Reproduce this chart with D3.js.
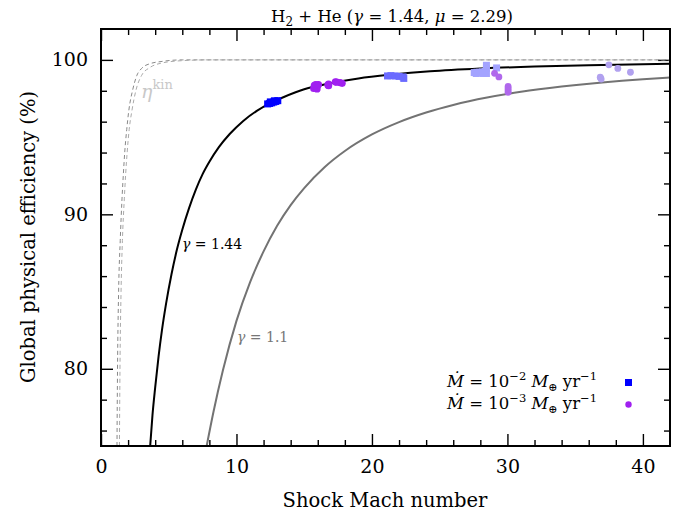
<!DOCTYPE html>
<html><head><meta charset="utf-8">
<script src="https://cdn.jsdelivr.net/npm/d3@7"></script>
<style>body{margin:0;background:#fff} text{font-family:"DejaVu Serif",serif}</style>
</head><body><svg id="c" width="694" height="515"></svg>
<script>
// ---- data ----
const xMajorTicks=[0,10,20,30,40];
const yMajorTicks=[80,90,100];
const xDomain=[0,42];
const yDomain=[75,102];
// theoretical curves (Mach, efficiency %)
const curveGamma144=[[3.63,75],[3.8,77.0],[4.0,78.8],[4.25,80.8],[4.5,82.5],[4.8,84.2],[5.2,86.1],[5.6,87.7],[6.0,89.0],[6.5,90.4],[7.0,91.6],[7.5,92.6],[8.0,93.4],[8.7,94.35],[9.5,95.2],[10.5,96.05],[11.5,96.7],[12.5,97.2],[13.5,97.6],[15,98.1],[17,98.5],[19,98.8],[21.5,99.05],[24.3,99.26],[28,99.44],[32,99.57],[36,99.66],[42,99.75]];
const curveGamma11=[[7.8,75],[8.3,77.2],[9.0,79.9],[10.0,83.1],[11.0,85.6],[12.0,87.6],[13.0,89.26],[14.0,90.6],[15.0,91.7],[16.5,93.05],[18.0,94.1],[20.0,95.17],[22.0,95.97],[24.0,96.59],[26.0,97.08],[28.5,97.56],[31.0,97.93],[34.0,98.27],[37.0,98.54],[40.0,98.75],[42.0,98.86]];
const curveKinA=[[1.18,75],[1.22,80],[1.3,85],[1.42,88.3],[1.55,91],[1.65,92.6],[1.75,94],[1.9,95.5],[2.05,96.7],[2.35,98.1],[2.65,99],[3.0,99.45],[3.6,99.75],[4.5,99.9],[6,100],[42,100]];
const curveKinB=[[1.36,75],[1.4,80],[1.48,85],[1.58,88.3],[1.72,91],[1.82,92.6],[1.93,94],[2.08,95.5],[2.28,96.7],[2.6,98.1],[3.0,99],[3.6,99.5],[4.5,99.8],[6,99.95],[8,100],[42,100]];
// simulations, Mdot = 1e-2 (squares)
const sq1=[[12.3,97.15],[12.45,97.18],[12.6,97.22],[12.75,97.27],[12.9,97.31],[13.05,97.36],[12.5,97.28],[12.8,97.35]];
const sq2=[[21.15,98.96],[21.4,98.98],[21.7,98.96],[22.0,98.93],[22.35,98.8],[22.3,98.9]];
const sq3=[[27.55,99.18],[27.75,99.2],[27.95,99.2],[28.15,99.22],[28.35,99.25],[28.45,99.45],[28.45,99.65],[28.45,99.12],[27.7,99.12],[28.2,99.12],[29.2,99.48]];
// simulations, Mdot = 1e-3 (circles)
const ci1=[[15.7,98.15],[15.8,98.22],[15.9,98.28],[16.0,98.36],[15.75,98.35],[15.95,98.12],[16.05,98.4],[15.85,98.4],[16.8,98.33],[16.8,98.43],[16.75,98.38],[17.3,98.58],[17.4,98.56],[17.65,98.53],[17.8,98.48]];
const ci2=[[29.05,99.13],[29.37,98.9],[30.05,98.28],[30.05,98.15],[30.05,98.02],[30.05,97.9]];
const ci3=[[37.49,99.68],[38.15,99.45],[39.08,99.2],[36.85,98.88],[36.92,98.76],[36.88,98.82]];

// ---- layout ----
const svg=d3.select("#c");
const L=101,R=670,T=29,B=446;
const x=d3.scaleLinear().domain(xDomain).range([L,R]);
const y=d3.scaleLinear().domain(yDomain).range([B,T]);
svg.append("defs").append("clipPath").attr("id","clip").append("rect")
  .attr("x",L).attr("y",T).attr("width",R-L).attr("height",B-T);

const xMinor=d3.range(2,42,2).filter(v=>v%10!==0);
const yMinor=d3.range(76,102,2).filter(v=>v%10!==0);

function styleAxis(g){g.select(".domain").remove();g.selectAll("line").attr("stroke","#000").attr("stroke-width",1.4);
  g.selectAll("text").attr("font-size",19).attr("fill","#000").attr("font-family","DejaVu Serif");}
// bottom
svg.append("g").attr("transform",`translate(0,${B})`).call(d3.axisBottom(x).tickValues(xMajorTicks).tickSize(-12).tickPadding(14).tickFormat(d3.format("d"))).call(styleAxis);
svg.append("g").attr("transform",`translate(0,${B})`).call(d3.axisBottom(x).tickValues(xMinor).tickSize(-6).tickFormat("")).call(styleAxis);
// top
svg.append("g").attr("transform",`translate(0,${T})`).call(d3.axisTop(x).tickValues(xMajorTicks).tickSize(-12).tickFormat("")).call(styleAxis);
svg.append("g").attr("transform",`translate(0,${T})`).call(d3.axisTop(x).tickValues(xMinor).tickSize(-6).tickFormat("")).call(styleAxis);
// left
svg.append("g").attr("transform",`translate(${L},0)`).call(d3.axisLeft(y).tickValues(yMajorTicks).tickSize(-12).tickPadding(13).tickFormat(d3.format("d"))).call(styleAxis);
svg.append("g").attr("transform",`translate(${L},0)`).call(d3.axisLeft(y).tickValues(yMinor).tickSize(-6).tickFormat("")).call(styleAxis);
// right
svg.append("g").attr("transform",`translate(${R},0)`).call(d3.axisRight(y).tickValues(yMajorTicks).tickSize(-12).tickFormat("")).call(styleAxis);
svg.append("g").attr("transform",`translate(${R},0)`).call(d3.axisRight(y).tickValues(yMinor).tickSize(-6).tickFormat("")).call(styleAxis);

const plot=svg.append("g").attr("clip-path","url(#clip)");
const line=d3.line().x(d=>x(d[0])).y(d=>y(d[1])).curve(d3.curveMonotoneX);
plot.append("path").datum(curveKinA).attr("d",line).attr("fill","none").attr("stroke","#888").attr("stroke-width",1).attr("stroke-dasharray","4,3");
plot.append("path").datum(curveKinB).attr("d",line).attr("fill","none").attr("stroke","#aaa").attr("stroke-width",1).attr("stroke-dasharray","4,3");
plot.append("path").datum(curveGamma11).attr("d",line).attr("fill","none").attr("stroke","#737373").attr("stroke-width",2);
plot.append("path").datum(curveGamma144).attr("d",line).attr("fill","none").attr("stroke","#000").attr("stroke-width",2);

function squares(data,color){plot.append("g").selectAll("rect").data(data).join("rect")
  .attr("x",d=>x(d[0])-3.5).attr("y",d=>y(d[1])-3.5).attr("width",7).attr("height",7).attr("fill",color);}
function circles(data,color,r){plot.append("g").selectAll("circle").data(data).join("circle")
  .attr("cx",d=>x(d[0])).attr("cy",d=>y(d[1])).attr("r",r).attr("fill",color);}
squares(sq1,"#0000ff");
circles(ci1,"#a020f0",3.6);
squares(sq2,"#6b6bff");
squares(sq3,"#a3a3ff");
circles(ci2,"#b068ec",3.4);
circles(ci3,"#b1a1ef",3.4);

// labels on curves
const kin=svg.append("text").attr("x",141).attr("y",98).attr("fill","#c8c8c8").attr("font-size",19);
kin.append("tspan").attr("font-style","italic").text("η");
kin.append("tspan").attr("dy",-9).attr("font-size",13).text("kin");
const g1=svg.append("text").attr("x",182).attr("y",249).attr("font-size",14).attr("fill","#000");
g1.append("tspan").attr("font-style","italic").text("γ");g1.append("tspan").text(" = 1.44");
const g2=svg.append("text").attr("x",237).attr("y",342).attr("font-size",14).attr("fill","#777");
g2.append("tspan").attr("font-style","italic").text("γ");g2.append("tspan").text(" = 1.1");

// title
const t=svg.append("text").attr("x",392).attr("y",22).attr("text-anchor","middle").attr("font-size",16.5).attr("fill","#000");
t.append("tspan").text("H");t.append("tspan").attr("dy",4).attr("font-size",12).text("2");
t.append("tspan").attr("dy",-4).text(" + He (");t.append("tspan").attr("font-style","italic").text("γ");
t.append("tspan").text(" = 1.44, ");t.append("tspan").attr("font-style","italic").text("μ");t.append("tspan").text(" = 2.29)");

// axis labels
svg.append("text").attr("x",385).attr("y",507).attr("text-anchor","middle").attr("font-size",19.5).text("Shock Mach number");
svg.append("text").attr("transform","translate(35,237) rotate(-90)").attr("text-anchor","middle").attr("font-size",19.5).text("Global physical efficiency (%)");

// legend
const legendExp=["−2","−3"];
const legendColors=["#0000ff","#a020f0"];
legendExp.forEach((e,i)=>{
  const yy=387+i*22;
  const tx=svg.append("text").attr("x",597).attr("y",yy).attr("text-anchor","end").attr("font-size",16.5);
  tx.append("tspan").attr("font-style","italic").text("Ṁ");
  tx.append("tspan").text(" = 10");
  tx.append("tspan").attr("dy",-7).attr("font-size",11.5).text(e);
  tx.append("tspan").attr("dy",7).attr("font-style","italic").text(" M");
  tx.append("tspan").attr("dy",4).attr("font-size",11).text("⊕");
  tx.append("tspan").attr("dy",-4).text(" yr");
  tx.append("tspan").attr("dy",-7).attr("font-size",11.5).text("−1");
  if(i===0) svg.append("rect").attr("x",625).attr("y",yy-8).attr("width",7).attr("height",7).attr("fill",legendColors[i]);
  else svg.append("circle").attr("cx",628.5).attr("cy",yy-4.5).attr("r",3.2).attr("fill",legendColors[i]);
});

// frame
svg.append("rect").attr("x",L).attr("y",T).attr("width",R-L).attr("height",B-T).attr("fill","none").attr("stroke","#000").attr("stroke-width",2);
</script></body></html>
